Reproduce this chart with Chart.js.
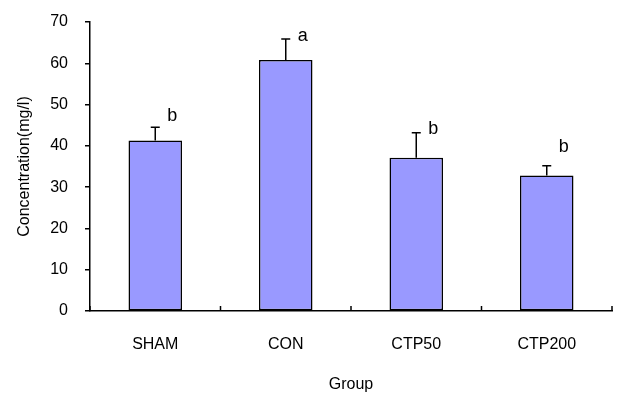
<!DOCTYPE html>
<html>
<head>
<meta charset="utf-8">
<script src="https://cdn.jsdelivr.net/npm/chart.js@4"></script>
<style>
  html, body { margin: 0; padding: 0; background: #fff; }
  #wrap { width: 617px; height: 394px; }
</style>
</head>
<body>
<div id="wrap"><canvas id="chart" width="617" height="394"></canvas></div>
<script>
// ---- data ----
const groups = ['SHAM', 'CON', 'CTP50', 'CTP200'];
const means = [41.3, 60.8, 37.1, 32.8];
const errors = [3.2, 5.1, 6.1, 2.4];
const letters = ['b', 'a', 'b', 'b'];
const letterAt = [47.2, 66.6, 44.0, 39.6];
const yTicks = [0, 10, 20, 30, 40, 50, 60, 70];

const FONT = "'Liberation Sans', Arial, sans-serif";

// error bars, significance letters and inward x ticks
const extras = {
  id: 'extras',
  afterDatasetsDraw(chart) {
    const { ctx, scales: { x, y } } = chart;
    ctx.save();
    ctx.strokeStyle = '#000';
    ctx.lineWidth = 1.5;
    means.forEach((m, i) => {
      const cx = x.getPixelForValue(i);
      const y0 = y.getPixelForValue(m);
      const y1 = y.getPixelForValue(m + errors[i]);
      ctx.beginPath();
      ctx.moveTo(cx, y0);
      ctx.lineTo(cx, y1);
      ctx.moveTo(cx - 4.5, y1);
      ctx.lineTo(cx + 4.5, y1);
      ctx.stroke();

      ctx.fillStyle = '#000';
      ctx.font = '18px ' + FONT;
      ctx.textAlign = 'center';
      ctx.textBaseline = 'middle';
      ctx.fillText(letters[i], cx + 17, y.getPixelForValue(letterAt[i]));
    });

    // category boundary ticks pointing up from the x axis
    const half = (x.getPixelForValue(1) - x.getPixelForValue(0)) / 2;
    const base = y.getPixelForValue(0);
    ctx.beginPath();
    for (let i = 0; i <= groups.length; i++) {
      const tx = x.getPixelForValue(0) - half + i * half * 2;
      ctx.moveTo(tx, base);
      ctx.lineTo(tx, base - 5);
    }
    ctx.stroke();
    ctx.restore();
  }
};

new Chart(document.getElementById('chart'), {
  type: 'bar',
  data: {
    labels: groups,
    datasets: [{
      data: means,
      backgroundColor: '#9999FF',
      borderColor: '#000',
      borderWidth: 1.5,
      borderSkipped: false,
      barPercentage: 0.41,
      categoryPercentage: 1
    }]
  },
  options: {
    responsive: false,
    animation: false,
    layout: { padding: { top: 22, right: 5, left: 0, bottom: 0 } },
    plugins: { legend: { display: false }, tooltip: { enabled: false } },
    scales: {
      x: {
        offset: true,
        grid: { display: false, drawTicks: false },
        border: { display: true, color: '#000', width: 1.5 },
        ticks: { color: '#000', font: { family: FONT, size: 16 }, padding: 24 },
        title: {
          display: true, text: 'Group', color: '#000',
          font: { family: FONT, size: 16 }, padding: { top: 0, bottom: 0 }
        },
        afterFit(scale) { scale.height = 83; }
      },
      y: {
        min: 0, max: 70,
        afterBuildTicks(scale) { scale.ticks = yTicks.map(v => ({ value: v })); },
        grid: { drawOnChartArea: false, drawTicks: true, tickLength: 5, color: '#000', lineWidth: 1.5 },
        border: { display: true, color: '#000', width: 1.5 },
        ticks: { color: '#000', font: { family: FONT, size: 16 }, padding: 17 },
        title: {
          display: true, text: 'Concentration(mg/l)', color: '#000',
          font: { family: FONT, size: 16 }, padding: { top: 15, bottom: 0 }
        },
        afterFit(scale) { scale.width = 90; scale.paddingTop = 0; scale.paddingBottom = 0; }
      }
    }
  },
  plugins: [extras]
});
</script>
</body>
</html>
